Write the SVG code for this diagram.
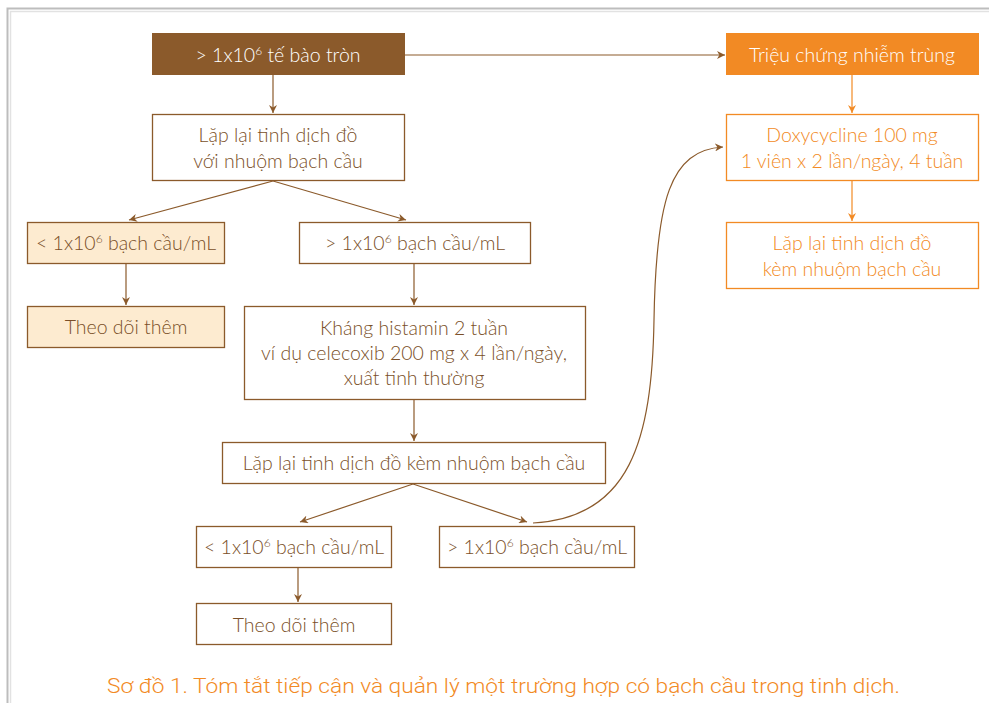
<svg xmlns="http://www.w3.org/2000/svg" width="989" height="703" viewBox="0 0 989 703">
<defs>
<style>
.t{font-family:Lato,"Open Sans","Noto Sans",sans-serif;font-size:19.5px;font-weight:300;text-anchor:middle}
.br{fill:#7a4f28}
.or{fill:#f28a24}
.wh{fill:#ffffff}
.bx{fill:#ffffff;stroke:#8b5a2b;stroke-width:1.3}
.pe{fill:#fdebd0;stroke:#8b5a2b;stroke-width:1.3}
.ob{fill:#ffffff;stroke:#f28a24;stroke-width:1.3}
.c{fill:none;stroke:#8b5a2b;stroke-width:1.2}
.co{fill:none;stroke:#f28a24;stroke-width:1.2}
.sup{font-size:12px}
</style>
<marker id="ab" viewBox="0 0 10 10" refX="10" refY="5" markerWidth="8" markerHeight="8" markerUnits="userSpaceOnUse" orient="auto"><path d="M0,0 L10,5 L0,10 L3,5 Z" fill="#8b5a2b"/></marker>
<marker id="ao" viewBox="0 0 10 10" refX="10" refY="5" markerWidth="8" markerHeight="8" markerUnits="userSpaceOnUse" orient="auto"><path d="M0,0 L10,5 L0,10 L3,5 Z" fill="#f28a24"/></marker>
</defs>
<rect width="989" height="703" fill="#ffffff"/>
<g id="frame">
<path d="M7.5,703 V8.5 H989" fill="none" stroke="#bdbdbd" stroke-width="2"/>
<path d="M10.5,703 V11.5 H989" fill="none" stroke="#e2e2e2" stroke-width="1.5"/>
</g>
<g id="connectors">
<line class="c" x1="273" y1="75" x2="273" y2="113" marker-end="url(#ab)"/>
<line class="c" x1="405" y1="55" x2="725" y2="55" marker-end="url(#ab)"/>
<line class="co" x1="852" y1="75" x2="852" y2="113" marker-end="url(#ao)"/>
<line class="co" x1="852" y1="181" x2="852" y2="221" marker-end="url(#ao)"/>
<line class="c" x1="273" y1="181" x2="129" y2="220" marker-end="url(#ab)"/>
<line class="c" x1="273" y1="181" x2="406" y2="220" marker-end="url(#ab)"/>
<line class="c" x1="126" y1="264" x2="126" y2="305" marker-end="url(#ab)"/>
<line class="c" x1="414" y1="264" x2="414" y2="305" marker-end="url(#ab)"/>
<line class="c" x1="414" y1="400" x2="414" y2="441" marker-end="url(#ab)"/>
<line class="c" x1="413" y1="484" x2="300" y2="522" marker-end="url(#ab)"/>
<line class="c" x1="413" y1="484" x2="527" y2="522" marker-end="url(#ab)"/>
<line class="c" x1="298" y1="567" x2="298" y2="602" marker-end="url(#ab)"/>
<path class="c" d="M533,523 C630,518 652,440 654,320 C656,200 670,150 723,147" marker-end="url(#ab)"/>
</g>
<g id="n1">
<rect x="152" y="33" width="253" height="42" fill="#8b5a2b"/>
<text class="t wh" x="278" y="62">&gt; 1x10<tspan class="sup" dy="-7">6</tspan><tspan dy="7"> tế bào tròn</tspan></text>
</g>
<g id="n2">
<rect class="bx" x="152.5" y="114.5" width="252" height="66"/>
<text class="t br" x="278" y="142">Lặp lại tinh dịch đồ</text>
<text class="t br" x="278" y="168">với nhuộm bạch cầu</text>
</g>
<g id="n3">
<rect x="726" y="33" width="253" height="42" fill="#f28a24"/>
<text class="t wh" x="852" y="62">Triệu chứng nhiễm trùng</text>
</g>
<g id="n4">
<rect class="ob" x="726.5" y="114.5" width="252" height="66"/>
<text class="t or" x="852" y="142">Doxycycline 100 mg</text>
<text class="t or" x="852" y="168">1 viên x 2 lần/ngày, 4 tuần</text>
</g>
<g id="n5">
<rect class="ob" x="726.5" y="222.5" width="252" height="66"/>
<text class="t or" x="852" y="250">Lặp lại tinh dịch đồ</text>
<text class="t or" x="852" y="276">kèm nhuộm bạch cầu</text>
</g>
<g id="n6">
<rect class="pe" x="27.5" y="222.5" width="197" height="41"/>
<text class="t br" x="126" y="250">&lt; 1x10<tspan class="sup" dy="-7">6</tspan><tspan dy="7"> bạch cầu/mL</tspan></text>
</g>
<g id="n7">
<rect class="bx" x="299.5" y="222.5" width="231" height="41"/>
<text class="t br" x="415" y="250">&gt; 1x10<tspan class="sup" dy="-7">6</tspan><tspan dy="7"> bạch cầu/mL</tspan></text>
</g>
<g id="n8">
<rect class="pe" x="27.5" y="306.5" width="197" height="41"/>
<text class="t br" x="126" y="334">Theo dõi thêm</text>
</g>
<g id="n9">
<rect class="bx" x="244.5" y="306.5" width="341" height="93"/>
<text class="t br" x="414" y="335">Kháng histamin 2 tuần</text>
<text class="t br" x="414" y="360">ví dụ celecoxib 200 mg x 4 lần/ngày,</text>
<text class="t br" x="414" y="385">xuất tinh thường</text>
</g>
<g id="n10">
<rect class="bx" x="222.5" y="442.5" width="383" height="41"/>
<text class="t br" x="414" y="470">Lặp lại tinh dịch đồ kèm nhuộm bạch cầu</text>
</g>
<g id="n11">
<rect class="bx" x="196.5" y="526.5" width="195" height="41"/>
<text class="t br" x="294" y="554">&lt; 1x10<tspan class="sup" dy="-7">6</tspan><tspan dy="7"> bạch cầu/mL</tspan></text>
</g>
<g id="n12">
<rect class="bx" x="439.5" y="526.5" width="195" height="41"/>
<text class="t br" x="537" y="554">&gt; 1x10<tspan class="sup" dy="-7">6</tspan><tspan dy="7"> bạch cầu/mL</tspan></text>
</g>
<g id="n13">
<rect class="bx" x="196.5" y="603.5" width="195" height="41"/>
<text class="t br" x="294" y="632">Theo dõi thêm</text>
</g>
<g id="caption">
<text x="107" y="693" font-family="Roboto,'Noto Sans',sans-serif" font-size="21" font-weight="300" fill="#f28a24" textLength="793" lengthAdjust="spacingAndGlyphs">Sơ đồ 1. Tóm tắt tiếp cận và quản lý một trường hợp có bạch cầu trong tinh dịch.</text>
</g>
</svg>
